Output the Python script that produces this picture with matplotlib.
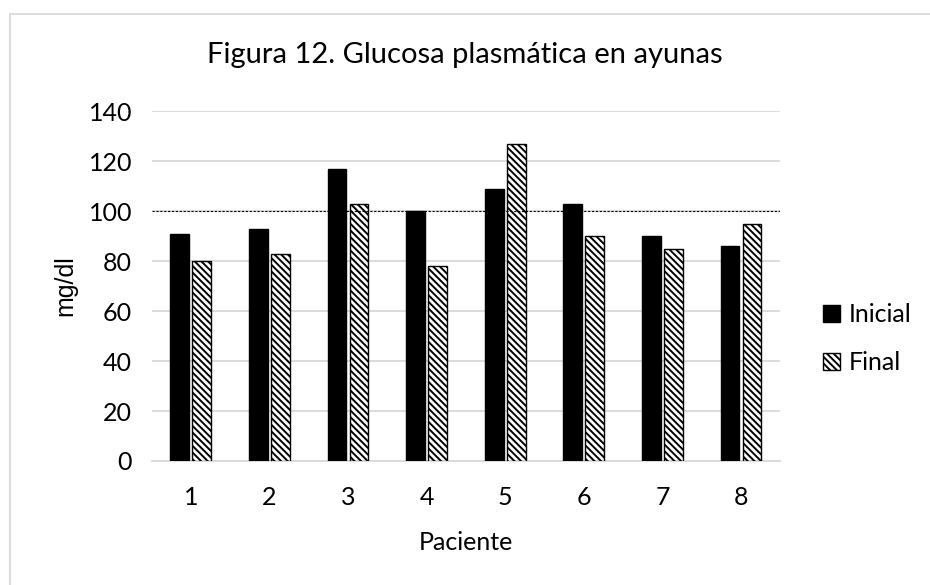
import numpy as np
import matplotlib.pyplot as plt
from matplotlib.lines import Line2D

plt.rcParams['font.family'] = ['Lato', 'DejaVu Sans']
plt.rcParams['hatch.linewidth'] = 1.4

# datos
pacientes = ['1', '2', '3', '4', '5', '6', '7', '8']
inicial = [91, 93, 117, 100, 109, 103, 90, 86]
final = [80, 83, 103, 78, 127, 90, 85, 95]
limite = 100

fig = plt.figure(figsize=(9.3, 5.85), dpi=100)
ax = fig.add_axes([0.163, 0.212, 0.676, 0.598])

x = np.arange(len(pacientes))
w = 0.24
ax.bar(x - w / 2 - 0.02, inicial, w, color='black', edgecolor='black', label='Inicial', zorder=3)
ax.bar(x + w / 2 + 0.02, final, w, color='white', edgecolor='black', hatch='\\\\\\\\\\',
       linewidth=1, label='Final', zorder=3)
ax.axhline(limite, color='black', linestyle=(0, (2, 1.5)), linewidth=0.8, zorder=4)

ax.set_xlim(-0.5, len(pacientes) - 0.5)
ax.set_ylim(0, 140)
ax.set_yticks(range(0, 141, 20))
ax.set_xticks(x)
ax.set_xticklabels(pacientes)
ax.grid(axis='y', color='#d9d9d9', linewidth=1.3, zorder=0)
for s in ['top', 'right', 'left']:
    ax.spines[s].set_visible(False)
ax.spines['bottom'].set_color('#d9d9d9')
ax.spines['bottom'].set_linewidth(1.3)
ax.tick_params(length=0, labelsize=18)
ax.tick_params(axis='y', pad=14)
ax.tick_params(axis='x', pad=18)

ax.set_xlabel('Paciente', fontsize=18, labelpad=16)
ax.set_ylabel('mg/dl', fontsize=18, labelpad=8, family=['Liberation Sans', 'DejaVu Sans'])
fig.text(0.5, 1 - 63 / 585, 'Figura 12. Glucosa plasmática en ayunas', fontsize=21,
         ha='center', va='baseline')

ax.legend(loc='center left', bbox_to_anchor=(1.032, 0.35), frameon=False, fontsize=18,
          handlelength=0.7, handleheight=0.7, handletextpad=0.35, labelspacing=1.0)

# borde del area del grafico (recortado a derecha y abajo)
bx, by = 9.5 / 930, 1 - 13.5 / 585
fig.add_artist(Line2D([bx, 1], [by, by], transform=fig.transFigure, color='#d9d9d9', linewidth=1.3))
fig.add_artist(Line2D([bx, bx], [0, by], transform=fig.transFigure, color='#d9d9d9', linewidth=1.3))
fig.savefig('out.png', dpi=100)
